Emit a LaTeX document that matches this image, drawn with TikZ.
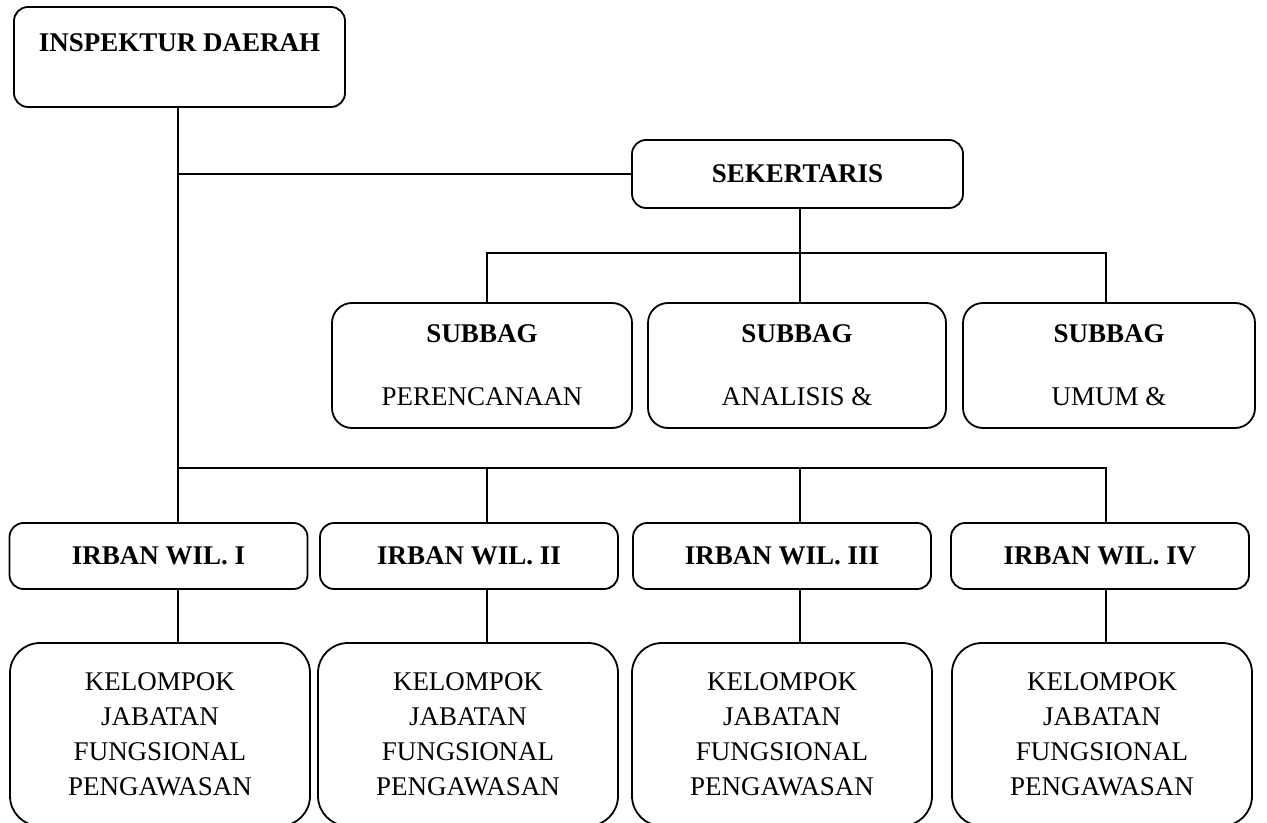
\documentclass[tikz,border=0pt]{standalone}
\usepackage{fontspec}
\setmainfont{Liberation Serif}
\usetikzlibrary{calc}

\tikzset{
  box/.style={draw, line width=0.9pt, rounded corners=7pt, inner sep=0pt},
  subbox/.style={box, rounded corners=10pt, minimum height=62.5pt, align=center},
  irbox/.style={box, minimum width=149pt, minimum height=33pt, font=\bfseries},
  kelbox/.style={box, rounded corners=15pt, minimum width=150pt, minimum height=91.5pt, align=center},
  link/.style={line width=0.8pt}
}

\begin{document}
\begin{tikzpicture}[x=0.5pt,y=-0.5pt]
  \fontsize{13.5}{17.5}\selectfont
  \useasboundingbox (0,0) rectangle (1267,823);
  % top
  \node[box, minimum width=165.5pt, minimum height=50pt] (insp) at (179.5,57) {};
  \node[font=\bfseries] (insptxt) at (179.5,43) {INSPEKTUR DAERAH};
  \node[box, minimum width=165.5pt, minimum height=34pt, font=\bfseries] (sek) at (797.5,174) {SEKERTARIS};
  % subbag
  \node[subbox, minimum width=150pt] (sub1) at (482,365.5) {\textbf{SUBBAG}\\[14pt]PERENCANAAN};
  \node[subbox, minimum width=149pt] (sub2) at (797,365.5) {\textbf{SUBBAG}\\[14pt]ANALISIS \&};
  \node[subbox, minimum width=146pt] (sub3) at (1109,365.5) {\textbf{SUBBAG}\\[14pt]UMUM \&};
  % irban
  \node[irbox] (ir1) at (158.5,556) {IRBAN WIL. I};
  \node[irbox] (ir2) at (469,556) {IRBAN WIL. II};
  \node[irbox] (ir3) at (782,556) {IRBAN WIL. III};
  \node[irbox] (ir4) at (1100,556) {IRBAN WIL. IV};
  % kelompok
  \foreach \i/\x in {1/160,2/468,3/782,4/1102}
    \node[kelbox] (kel\i) at (\x,734.5) {KELOMPOK\\JABATAN\\FUNGSIONAL\\PENGAWASAN};
  % bus points
  \coordinate (s1) at (487,253);
  \coordinate (s3) at (1106,253);
  \coordinate (d1) at (178,468);
  \coordinate (d2) at (487,468);
  \coordinate (d3) at (800,468);
  \coordinate (d4) at (1106,468);
  % lines
  \draw[link] (insp.south -| d1) -- (d1 |- ir1.north);
  \draw[link] (d1 |- sek.west) -- (sek.west);
  \draw[link] (sek.south -| d3) -- (d3 |- sub2.north);
  \draw[link] (s1 |- sub1.north) -- (s1) -- (s3) -- (s3 |- sub3.north);
  \draw[link] (d1) -- (d4) -- (d4 |- ir4.north);
  \draw[link] (d2) -- (d2 |- ir2.north);
  \draw[link] (d3) -- (d3 |- ir3.north);
  \foreach \i in {1,2,3,4}
    \draw[link] (ir\i.south -| d\i) -- (d\i |- kel\i.north);
\end{tikzpicture}
\end{document}
